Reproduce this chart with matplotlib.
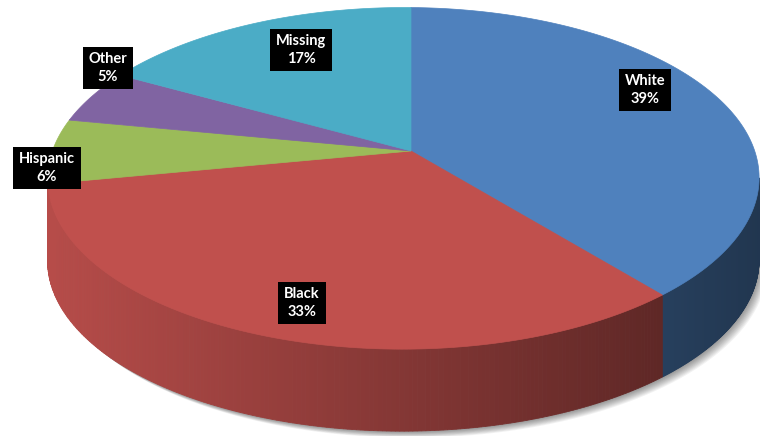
import numpy as np
import matplotlib
matplotlib.use("Agg")
import matplotlib.pyplot as plt
from matplotlib.patches import Polygon
from matplotlib.colors import to_rgb

# slice data (percent), clockwise from 12 o'clock
groups = ["White", "Black", "Hispanic", "Other", "Missing"]
shares = [39, 33, 6, 5, 17]
colors = ["#4F81BD", "#C0504D", "#9BBB59", "#8064A2", "#4BACC6"]

# label box centres in pixels (layout only)
label_pos = {"White": (645, 90), "Black": (302, 303), "Hispanic": (47, 168),
             "Other": (108, 68), "Missing": (301, 50)}

# perspective of the disc (pixel space)
cx, cy = 411, 151
f, g = 351.0, 166.4
k, m = 0.16, 0.0212
depth = 82


def proj(phi):
    u = np.sin(phi)
    v = -np.cos(phi)
    w = 1 - k * v + m * u
    return cx + f * u / w, cy + g * v / w


def shade(x):
    return np.clip(0.95 - 0.53 * (x - 50) / 710, 0.3, 1.0)


fig = plt.figure(figsize=(7.6, 4.36), dpi=100)
ax = fig.add_axes([0, 0, 1, 1])
ax.set_xlim(0, 760)
ax.set_ylim(436, 0)
ax.axis("off")

# outline to find the visible (near) rim between the x extremes
phis = np.linspace(0, 2 * np.pi, 2000)
ox, oy = proj(phis)
phi_right = phis[np.argmax(ox)]
phi_left = phis[np.argmin(ox)] - 0.03

# soft shadow under the disc
for i in range(9):
    sx, sy = ox + 1 + i * 0.9, oy + depth + 1 + i * 0.7
    ax.add_patch(Polygon(np.column_stack([sx, sy]), closed=True,
                         facecolor="#000000", alpha=0.05, lw=0))

bounds = np.cumsum([0] + shares) / sum(shares) * 2 * np.pi

# side walls
for name, col, a0, a1 in zip(groups, colors, bounds[:-1], bounds[1:]):
    s0, s1 = max(a0, phi_right), min(a1, phi_left)
    if s1 <= s0:
        continue
    t = np.linspace(s0, s1, 200)
    x, y = proj(t)
    base = np.array(to_rgb(col))
    for j in range(len(t) - 1):
        c = base * shade(0.5 * (x[j] + x[j + 1]))
        quad = [(x[j], y[j]), (x[j + 1], y[j + 1]),
                (x[j + 1], y[j + 1] + depth), (x[j], y[j] + depth)]
        ax.add_patch(Polygon(quad, closed=True, facecolor=c, edgecolor=c, lw=0.6))

# top faces
for name, col, a0, a1 in zip(groups, colors, bounds[:-1], bounds[1:]):
    t = np.linspace(a0, a1, 300)
    x, y = proj(t)
    pts = np.vstack([[cx, cy], np.column_stack([x, y])])
    ax.add_patch(Polygon(pts, closed=True, facecolor=col, edgecolor=col, lw=0.5))

# labels
for name, val in zip(groups, shares):
    lx, ly = label_pos[name]
    ax.text(lx, ly, f"{name}\n{val}%", ha="center", va="center", color="white",
            fontsize=10.5, fontweight="bold", family="Lato", linespacing=1.3,
            bbox=dict(boxstyle="square,pad=0.4", facecolor="black", edgecolor="none"))

fig.savefig("out.png", dpi=100)
